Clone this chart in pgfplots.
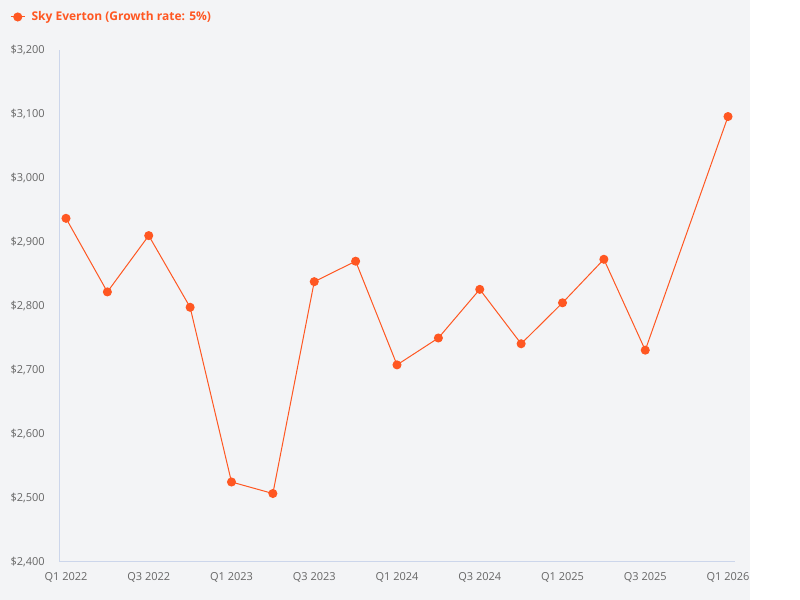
\documentclass[border=0pt]{standalone}
\usepackage{fontspec}
\setmainfont{Open Sans}
\usepackage{pgfplots}
\pgfplotsset{compat=1.18}
\definecolor{bg}{HTML}{F3F4F6}
\definecolor{series}{HTML}{FF5722}
\definecolor{axisline}{HTML}{CCD6EB}
\definecolor{ticktext}{HTML}{666666}

\begin{document}
\begin{tikzpicture}
% page is 800x600 px at 0.75pt per px
\path[use as bounding box, fill=white] (0pt,0pt) rectangle (600pt,450pt);
\fill[bg] (0pt,0pt) rectangle (562.5pt,450pt);
\begin{axis}[
  at={(44.25pt,28.5pt)}, anchor=south west,
  scale only axis, width=507pt, height=384pt,
  xmin=-0.169, xmax=16.169,
  ymin=2400, ymax=3200,
  axis x line*=bottom, axis y line*=left,
  axis line style={draw=axisline, line width=0.75pt},
  major tick length=0pt,
  xtick={0,2,...,16},
  xticklabels={Q1 2022,Q3 2022,Q1 2023,Q3 2023,Q1 2024,Q3 2024,Q1 2025,Q3 2025,Q1 2026},
  ytick={2400,2500,...,3200},
  yticklabels={{\$2,400},{\$2,500},{\$2,600},{\$2,700},{\$2,800},{\$2,900},{\$3,000},{\$3,100},{\$3,200}},
  tick label style={font=\fontsize{8.25}{10}\selectfont, text=ticktext, inner sep=0pt},
  xticklabel style={anchor=base, yshift=-14.25pt},
  yticklabel style={anchor=base east, xshift=-10.5pt, yshift=-3pt},
  legend style={at={(axis description cs:-0.0725,1.0645)}, anchor=west,
    draw=none, fill=none, inner sep=0pt, text=series,
    font=\bfseries\fontsize{9}{11}\selectfont,
    nodes={inner sep=0pt}, cells={anchor=west}},
  legend image code/.code={
    \draw[mark repeat=2, mark phase=2, #1] plot coordinates {(0pt,0pt) (5.25pt,0pt) (10.5pt,0pt)};
    \path (15.25pt,0pt);
  },
]
\addplot[color=series, line width=0.75pt, mark=*, mark size=3pt,
  mark options={solid, draw=none, fill=series}] coordinates {
  (0,2937) (1,2822) (2,2910) (3,2798) (4,2525) (5,2507) (6,2838) (7,2870)
  (8,2708) (9,2750) (10,2826) (11,2741) (12,2805) (13,2873) (14,2731) (16,3096)
};
\addlegendentry{Sky Everton (Growth rate: 5\%)}
\end{axis}
\end{tikzpicture}
\end{document}
